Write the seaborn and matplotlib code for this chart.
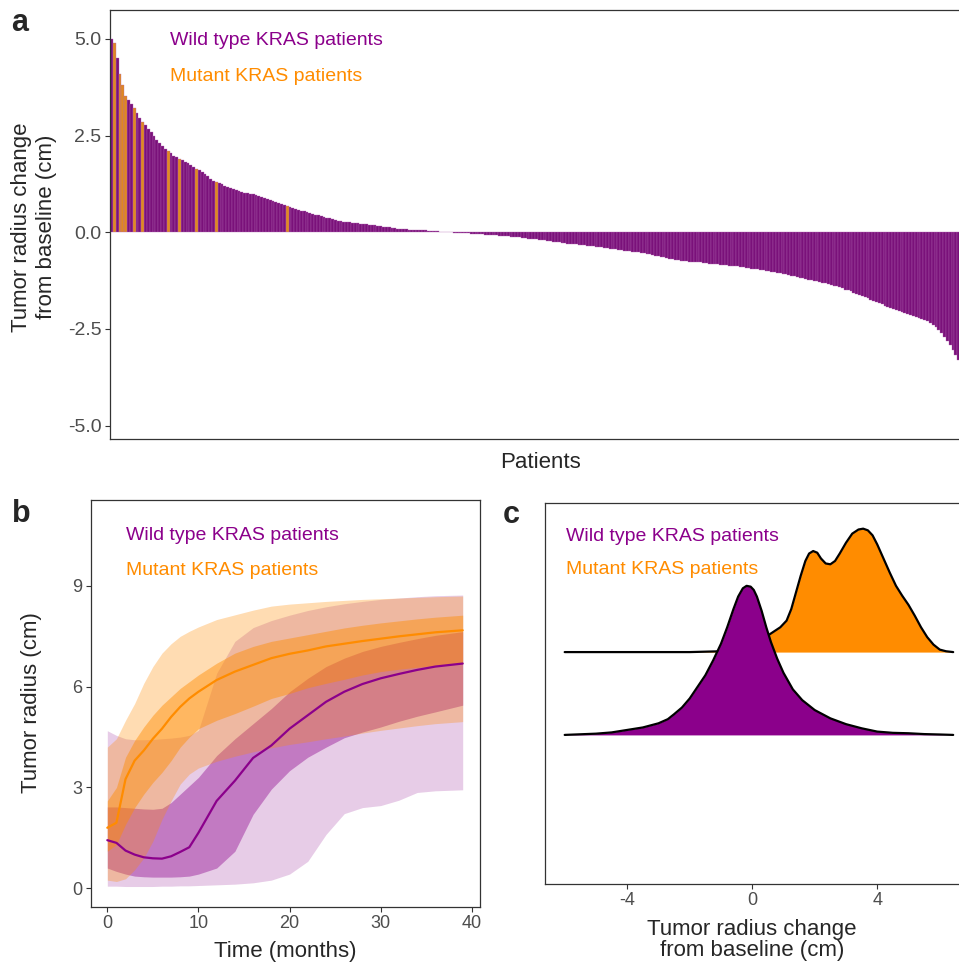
import numpy as np
import pandas as pd
import matplotlib
matplotlib.use("Agg")
import matplotlib.pyplot as plt
import seaborn as sns

PURPLE = "#8B008B"
ORANGE = "#FF8C00"
GREY_TXT = "#4D4D4D"
GREY_LINE = "#333333"

# ---- panel a : change from baseline per patient (sorted) ----
change_cm = [
    5.0, 4.9, 4.5, 4.1, 3.8, 3.52, 3.42, 3.32, 3.22, 3.08,
    2.95, 2.86, 2.77, 2.68, 2.6, 2.5, 2.4, 2.3, 2.23, 2.16,
    2.1, 2.04, 1.98, 1.94, 1.9, 1.86, 1.83, 1.79, 1.74, 1.69,
    1.64, 1.6, 1.55, 1.5, 1.45, 1.39, 1.33, 1.3, 1.27, 1.24,
    1.21, 1.17, 1.14, 1.11, 1.09, 1.07, 1.05, 1.03, 1.01, 1.0,
    0.98, 0.96, 0.94, 0.92, 0.9, 0.87, 0.84, 0.81, 0.78, 0.76,
    0.73, 0.7, 0.68, 0.66, 0.63, 0.61, 0.59, 0.56, 0.54, 0.52,
    0.5, 0.48, 0.46, 0.44, 0.42, 0.4, 0.38, 0.36, 0.34, 0.32,
    0.3, 0.29, 0.28, 0.27, 0.26, 0.25, 0.24, 0.23, 0.22, 0.21,
    0.21, 0.2, 0.19, 0.18, 0.17, 0.16, 0.15, 0.14, 0.13, 0.12,
    0.1, 0.09, 0.09, 0.08, 0.08, 0.07, 0.07, 0.06, 0.06, 0.06,
    0.05, 0.05, 0.04, 0.04, 0.03, 0.03, 0.02, 0.02, 0.01, 0.01,
    0.0, -0.005, -0.01, -0.015, -0.02, -0.025, -0.03, -0.035, -0.04, -0.045,
    -0.05, -0.055, -0.06, -0.065, -0.07, -0.075, -0.08, -0.085, -0.09, -0.095,
    -0.1, -0.11, -0.12, -0.13, -0.13, -0.14, -0.15, -0.16, -0.17, -0.17,
    -0.18, -0.19, -0.2, -0.21, -0.22, -0.23, -0.24, -0.25, -0.26, -0.27,
    -0.28, -0.29, -0.3, -0.3, -0.31, -0.32, -0.33, -0.34, -0.35, -0.35,
    -0.36, -0.37, -0.38, -0.39, -0.4, -0.41, -0.42, -0.43, -0.44, -0.45,
    -0.46, -0.47, -0.48, -0.49, -0.5, -0.51, -0.52, -0.53, -0.54, -0.55,
    -0.56, -0.58, -0.6, -0.61, -0.63, -0.64, -0.66, -0.68, -0.7, -0.71,
    -0.72, -0.73, -0.74, -0.75, -0.76, -0.77, -0.77, -0.78, -0.78, -0.79,
    -0.8, -0.81, -0.82, -0.82, -0.83, -0.84, -0.84, -0.85, -0.86, -0.87,
    -0.87, -0.88, -0.89, -0.9, -0.92, -0.93, -0.94, -0.95, -0.96, -0.97,
    -0.98, -0.99, -1.0, -1.02, -1.03, -1.05, -1.06, -1.08, -1.09, -1.11,
    -1.12, -1.14, -1.15, -1.17, -1.18, -1.2, -1.22, -1.23, -1.25, -1.27,
    -1.28, -1.3, -1.32, -1.34, -1.36, -1.38, -1.4, -1.42, -1.45, -1.48,
    -1.5, -1.53, -1.56, -1.59, -1.62, -1.65, -1.68, -1.71, -1.75, -1.78,
    -1.8, -1.83, -1.86, -1.9, -1.93, -1.96, -1.99, -2.01, -2.03, -2.06,
    -2.08, -2.1, -2.13, -2.16, -2.19, -2.22, -2.25, -2.28, -2.3, -2.35,
    -2.4, -2.45, -2.52, -2.6, -2.7, -2.8, -2.92, -3.05, -3.18, -3.3,
]
mutant_patients = [1, 3, 4, 5, 8, 11, 20, 24, 30, 37, 62]
a_yticks = [5.0, 2.5, 0.0, -2.5, -5.0]

# ---- panel b : tumor radius over time (median + two bands per group) ----
months = [0, 1, 2, 3, 4, 5, 6, 7, 8, 9, 10, 12, 14, 16, 18, 20, 22, 24, 26, 28, 30, 32, 34, 36, 39]
wt_median = [1.43, 1.35, 1.12, 1.0, 0.92, 0.89, 0.88, 0.95, 1.08, 1.22, 1.65, 2.6, 3.2, 3.88, 4.25,
             4.75, 5.15, 5.55, 5.85, 6.08, 6.25, 6.38, 6.5, 6.6, 6.69]
wt_inner_lo = [0.6, 0.5, 0.42, 0.36, 0.34, 0.33, 0.33, 0.33, 0.34, 0.36, 0.42, 0.6, 1.1, 2.2, 2.95,
               3.5, 3.9, 4.2, 4.48, 4.65, 4.8, 4.97, 5.12, 5.25, 5.45]
wt_inner_hi = [2.42, 2.42, 2.4, 2.38, 2.36, 2.35, 2.38, 2.55, 2.8, 3.05, 3.3, 3.95, 4.45, 4.9, 5.35,
               5.85, 6.25, 6.6, 6.85, 7.05, 7.2, 7.32, 7.43, 7.53, 7.64]
wt_outer_lo = [0.06, 0.06, 0.05, 0.05, 0.05, 0.05, 0.06, 0.06, 0.07, 0.07, 0.08, 0.1, 0.12, 0.16, 0.24,
               0.42, 0.8, 1.6, 2.22, 2.4, 2.46, 2.62, 2.85, 2.9, 2.93]
wt_outer_hi = [4.69, 4.55, 4.45, 4.42, 4.42, 4.43, 4.45, 4.47, 4.5, 4.55, 4.7, 6.4, 7.35, 7.76, 7.97,
               8.13, 8.27, 8.38, 8.47, 8.54, 8.6, 8.64, 8.68, 8.71, 8.73]
mt_median = [1.8, 1.95, 3.25, 3.8, 4.1, 4.45, 4.75, 5.1, 5.4, 5.65, 5.85, 6.2, 6.45, 6.65, 6.85,
             6.98, 7.08, 7.2, 7.28, 7.36, 7.43, 7.5, 7.56, 7.62, 7.68]
mt_inner_lo = [1.1, 1.3, 1.9, 2.4, 2.8, 3.15, 3.45, 3.8, 4.2, 4.5, 4.75, 5.0, 5.2, 5.42, 5.65,
               5.8, 5.97, 6.1, 6.22, 6.35, 6.45, 6.52, 6.58, 6.63, 6.69]
mt_inner_hi = [2.6, 3.0, 3.9, 4.4, 4.8, 5.15, 5.45, 5.7, 5.95, 6.15, 6.35, 6.7, 7.0, 7.2, 7.35,
               7.45, 7.55, 7.65, 7.75, 7.83, 7.9, 7.96, 8.02, 8.07, 8.13]
mt_outer_lo = [0.24, 0.2, 0.28, 0.55, 0.9, 1.4, 2.05, 2.6, 3.1, 3.4, 3.58, 3.78, 3.93, 4.06, 4.18,
               4.28, 4.36, 4.45, 4.53, 4.62, 4.7, 4.77, 4.84, 4.9, 4.96]
mt_outer_hi = [4.2, 4.45, 5.0, 5.5, 6.1, 6.6, 7.0, 7.28, 7.5, 7.65, 7.78, 8.0, 8.14, 8.28, 8.4,
               8.46, 8.5, 8.54, 8.57, 8.6, 8.62, 8.64, 8.66, 8.68, 8.7]
b_xticks = [0, 10, 20, 30, 40]
b_yticks = [0, 3, 6, 9]

# ---- panel c : density ridges of change from baseline ----
wt_dens_x = [-6.0, -5.0, -4.5, -4.0, -3.5, -3.0, -2.7, -2.5, -2.25, -2.0, -1.75, -1.5, -1.25, -1.0,
             -0.8, -0.6, -0.45, -0.3, -0.18, -0.05, 0.05, 0.15, 0.3, 0.45, 0.6, 0.8, 1.0, 1.3,
             1.6, 2.0, 2.5, 3.0, 3.5, 4.0, 4.5, 5.0, 5.5, 6.0, 6.43]
wt_dens_h = [0.0, 0.015, 0.03, 0.06, 0.09, 0.14, 0.19, 0.25, 0.33, 0.44, 0.58, 0.72, 0.9, 1.1,
             1.3, 1.52, 1.67, 1.77, 1.8, 1.79, 1.75, 1.67, 1.5, 1.3, 1.12, 0.92, 0.75, 0.55,
             0.42, 0.3, 0.2, 0.13, 0.08, 0.04, 0.025, 0.02, 0.01, 0.005, 0.0]
mt_dens_x = [-6.0, -2.0, -1.0, -0.5, 0.0, 0.3, 0.5, 0.7, 0.9, 1.1, 1.25, 1.4, 1.55, 1.7, 1.82,
             1.95, 2.08, 2.2, 2.35, 2.5, 2.65, 2.8, 3.0, 3.2, 3.4, 3.55, 3.7, 3.85, 4.0, 4.2,
             4.4, 4.6, 4.8, 5.0, 5.2, 5.4, 5.6, 5.8, 6.0, 6.2, 6.43]
mt_dens_h = [0.0, 0.0, 0.01, 0.03, 0.08, 0.14, 0.2, 0.25, 0.3, 0.38, 0.52, 0.72, 0.92, 1.1, 1.19,
             1.22, 1.2, 1.13, 1.07, 1.06, 1.1, 1.19, 1.32, 1.43, 1.48, 1.49, 1.47, 1.41, 1.3, 1.13,
             0.96, 0.8, 0.68, 0.57, 0.44, 0.3, 0.18, 0.09, 0.03, 0.01, 0.0]
c_xticks = [-4, 0, 4]

WT_LABEL = "Wild type KRAS patients"
MT_LABEL = "Mutant KRAS patients"

sns.set_theme(style="white")
plt.rcParams["font.family"] = ["Liberation Sans", "DejaVu Sans"]

W, H = 959, 964
fig = plt.figure(figsize=(W / 100, H / 100), dpi=100)


def px_axes(left, top, right, bottom):
    return fig.add_axes([left / W, 1 - bottom / H, (right - left) / W, (bottom - top) / H])


def style_box(ax, labelsize=13):
    for s in ax.spines.values():
        s.set_visible(True)
        s.set_color(GREY_LINE)
        s.set_linewidth(0.9)
    ax.tick_params(direction="out", length=3.6, width=0.8, color=GREY_LINE,
                   labelsize=labelsize, labelcolor=GREY_TXT, pad=2.5,
                   bottom=True, left=True)


# ---------- a ----------
ax_a = px_axes(110, 10, 960, 439)
df_a = pd.DataFrame({"patient": np.arange(len(change_cm)), "change": change_cm})
df_a["status"] = np.where(df_a["patient"].isin(mutant_patients), "Mutant", "Wild type")
sns.barplot(data=df_a, x="patient", y="change", hue="status",
            palette={"Wild type": PURPLE, "Mutant": ORANGE}, dodge=False, width=1.0,
            errorbar=None, legend=False, edgecolor="#B366B3", linewidth=0.25, ax=ax_a)
ax_a.set_xlim(-0.5, len(change_cm) - 0.5)
ax_a.set_ylim(-5.345, 5.75)
ax_a.set_xticks([])
ax_a.set_yticks(a_yticks)
ax_a.set_yticklabels([f"{v:.1f}" for v in a_yticks])
ax_a.set_xlabel("")
ax_a.set_ylabel("")
style_box(ax_a, labelsize=14)
ax_a.text(0.0707, 0.930, WT_LABEL, color=PURPLE, fontsize=14, transform=ax_a.transAxes, va="center")
ax_a.text(0.0707, 0.844, MT_LABEL, color=ORANGE, fontsize=14, transform=ax_a.transAxes, va="center")

# ---------- b ----------
ax_b = px_axes(91, 500, 480, 907)
ax_b.fill_between(months, wt_outer_lo, wt_outer_hi, color=PURPLE, alpha=0.2, lw=0)
ax_b.fill_between(months, wt_inner_lo, wt_inner_hi, color=PURPLE, alpha=0.4, lw=0)
sns.lineplot(x=months, y=wt_median, color=PURPLE, lw=1.6, ax=ax_b)
ax_b.fill_between(months, mt_outer_lo, mt_outer_hi, color=ORANGE, alpha=0.3, lw=0)
ax_b.fill_between(months, mt_inner_lo, mt_inner_hi, color=ORANGE, alpha=0.45, lw=0)
sns.lineplot(x=months, y=mt_median, color=ORANGE, lw=1.6, ax=ax_b)
ax_b.set_xlim(-1.79, 40.9)
ax_b.set_ylim(-0.56, 11.56)
ax_b.set_xticks(b_xticks)
ax_b.set_yticks(b_yticks)
style_box(ax_b)
ax_b.text(0.090, 0.912, WT_LABEL, color=PURPLE, fontsize=14, transform=ax_b.transAxes, va="center")
ax_b.text(0.090, 0.828, MT_LABEL, color=ORANGE, fontsize=14, transform=ax_b.transAxes, va="center")

# ---------- c ----------
ax_c = px_axes(545, 503, 961, 884)
mt_top = 2.0 + np.array(mt_dens_h)
wt_top = 1.0 + np.array(wt_dens_h)
ax_c.fill_between(mt_dens_x, 2.0, mt_top, color=ORANGE, lw=0, zorder=1)
sns.lineplot(x=mt_dens_x, y=mt_top, color="black", lw=1.6, sort=False, estimator=None, ax=ax_c, zorder=2)
ax_c.fill_between(wt_dens_x, 1.0, wt_top, color=PURPLE, lw=0, zorder=3)
sns.lineplot(x=wt_dens_x, y=wt_top, color="black", lw=1.6, sort=False, estimator=None, ax=ax_c, zorder=4)
ax_c.set_xlim(-6.63, 6.68)
ax_c.set_ylim(-0.80, 3.80)
ax_c.set_xticks(c_xticks)
ax_c.set_xticklabels([str(v) for v in c_xticks])
ax_c.set_yticks([])
style_box(ax_c)
ax_c.tick_params(left=False)
ax_c.text(0.0506, 0.912, WT_LABEL, color=PURPLE, fontsize=14, transform=ax_c.transAxes, va="center")
ax_c.text(0.0506, 0.825, MT_LABEL, color=ORANGE, fontsize=14, transform=ax_c.transAxes, va="center")

# ---------- titles / panel letters ----------
fs_title = 16
fig.text(34 / W, 1 - 227 / H, "Tumor radius change\nfrom baseline (cm)", rotation=90,
         ha="center", va="center", multialignment="center", fontsize=fs_title)
fig.text(541 / W, 1 - 462 / H, "Patients", ha="center", va="center", fontsize=fs_title)
fig.text(31 / W, 1 - 703 / H, "Tumor radius (cm)", rotation=90, ha="center", va="center", fontsize=fs_title)
fig.text(285 / W, 1 - 952 / H, "Time (months)", ha="center", va="center", fontsize=fs_title)
fig.text(752 / W, 1 - 940 / H, "Tumor radius change\nfrom baseline (cm)", ha="center", va="center",
         multialignment="center", fontsize=fs_title, linespacing=1.0)

for letter, x, y in [("a", 20, 23), ("b", 21, 514), ("c", 511, 515)]:
    fig.text(x / W, 1 - y / H, letter, ha="center", va="center", fontsize=22, fontweight="bold")

fig.savefig("out.png", dpi=100)
